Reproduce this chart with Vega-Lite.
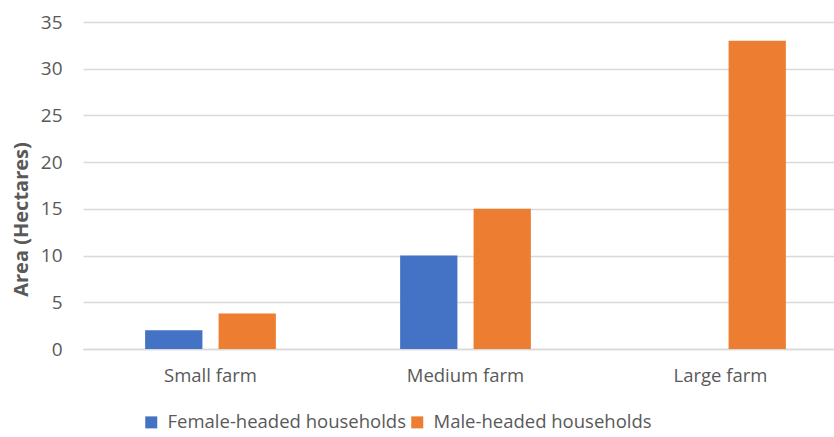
{
  "$schema": "https://vega.github.io/schema/vega-lite/v6.json",
  "width": 750,
  "height": 327,
  "autosize": "none",
  "padding": {"left": 83, "top": 22, "right": 1, "bottom": 88},
  "background": "white",
  "data": {
    "values": [
      {"farm": "Small farm", "group": "Female-headed households", "area": 2},
      {"farm": "Small farm", "group": "Male-headed households", "area": 3.8},
      {"farm": "Medium farm", "group": "Female-headed households", "area": 10},
      {"farm": "Medium farm", "group": "Male-headed households", "area": 15},
      {"farm": "Large farm", "group": "Female-headed households", "area": 0},
      {"farm": "Large farm", "group": "Male-headed households", "area": 33}
    ]
  },
  "config": {
    "font": "Open Sans",
    "view": {"stroke": null}
  },
  "mark": {"type": "bar"},
  "encoding": {
    "x": {
      "field": "farm",
      "type": "nominal",
      "sort": ["Small farm", "Medium farm", "Large farm"],
      "scale": {"paddingInner": 0, "paddingOuter": 0, "range": [0, 765]},
      "axis": {
        "title": null,
        "labelAngle": 0,
        "labelFontSize": 18.5,
        "labelColor": "#595959",
        "labelPadding": 17,
        "ticks": false,
        "domainColor": "#d9d9d9",
        "domainWidth": 1.3
      }
    },
    "xOffset": {
      "field": "group",
      "type": "nominal",
      "scale": {"paddingInner": 0.22, "paddingOuter": 0.846}
    },
    "y": {
      "field": "area",
      "type": "quantitative",
      "scale": {"domain": [0, 35]},
      "axis": {
        "title": "Area (Hectares)",
        "titleFontSize": 20,
        "titleFontWeight": "bold",
        "titleColor": "#595959",
        "titleX": -62,
        "titleY": 197,
        "titleBaseline": "middle",
        "titleAlign": "center",
        "titleAngle": -90,
        "values": [0, 5, 10, 15, 20, 25, 30, 35],
        "labelFontSize": 19,
        "labelColor": "#595959",
        "labelPadding": 21,
        "ticks": false,
        "domain": false,
        "gridColor": "#d9d9d9",
        "gridWidth": 1.3
      }
    },
    "color": {
      "field": "group",
      "type": "nominal",
      "scale": {
        "domain": ["Female-headed households", "Male-headed households"],
        "range": ["#4472c4", "#ed7d31"]
      },
      "legend": {
        "title": null,
        "orient": "none",
        "legendX": 59,
        "legendY": 391,
        "direction": "horizontal",
        "columns": 2,
        "columnPadding": 1,
        "symbolType": "square",
        "symbolSize": 144,
        "symbolStrokeWidth": 0,
        "labelFontSize": 18.5,
        "labelColor": "#595959",
        "labelLimit": 400,
        "labelOffset": 7
      }
    }
  }
}
